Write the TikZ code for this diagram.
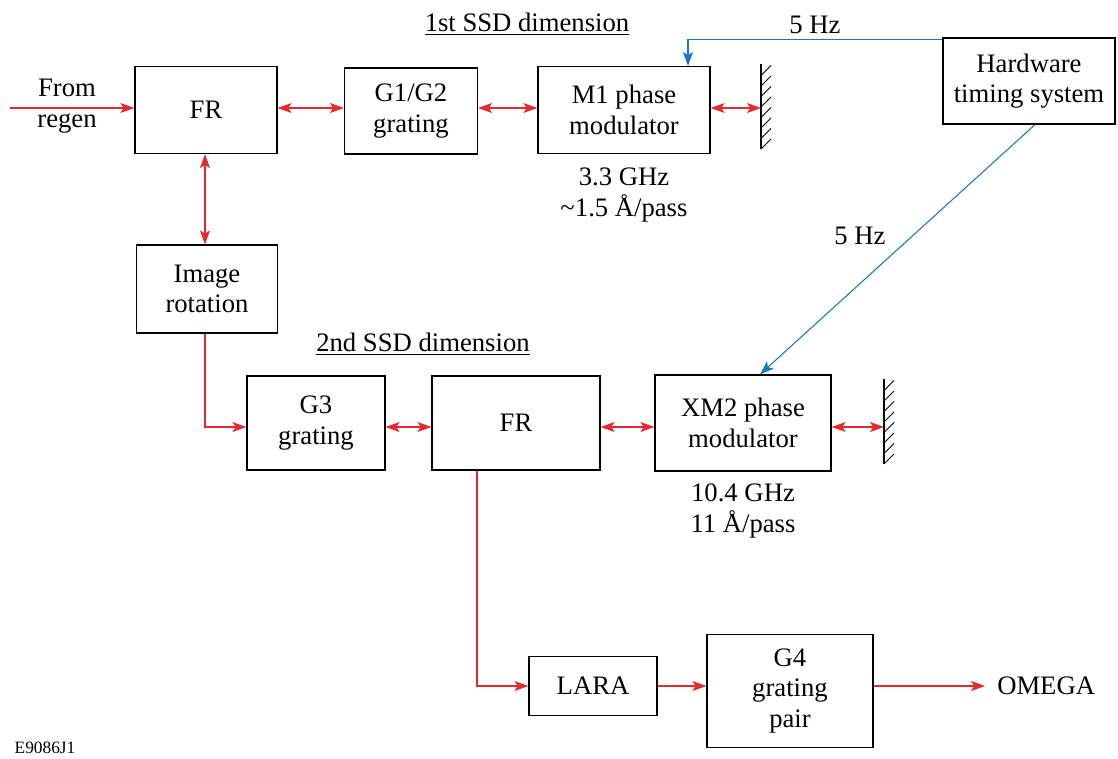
\documentclass[tikz,border=0pt]{standalone}
\usepackage{fontspec}
\setmainfont{Liberation Serif}
\usetikzlibrary{arrows.meta}
\definecolor{lred}{RGB}{232,40,44}
\definecolor{lblue}{RGB}{20,120,195}
\begin{document}
\begin{tikzpicture}[x=0.75pt,y=-0.75pt,
  font=\fontsize{20}{23}\selectfont,
  box/.style={draw, line width=0.9pt, inner sep=0pt, align=center},
  lbl/.style={inner sep=1pt, align=center},
  ra/.style={draw=lred, line width=0.8pt, -{Stealth[length=10.5pt,width=7.5pt,inset=2.5pt]}},
  rb/.style={draw=lred, line width=0.8pt, {Stealth[length=10.5pt,width=7.5pt,inset=2.5pt]}-{Stealth[length=10.5pt,width=7.5pt,inset=2.5pt]}},
  ba/.style={draw=lblue, line width=0.8pt, -{Stealth[length=10.5pt,width=7.5pt,inset=2.5pt]}},
  mirror/.style={line width=0.9pt}
]
\useasboundingbox (0,0) rectangle (1118,759);

% boxes
\node[box, minimum width=106.5pt, minimum height=65.25pt] (FR1) at (206,110) {FR};
\node[box, minimum width=99.75pt, minimum height=64.5pt] (G12) at (411,111) {G1/G2\\grating};
\node[box, minimum width=129pt, minimum height=65.25pt] (M1) at (624,110) {M1 phase\\modulator};
\node[box, minimum width=129pt, minimum height=64.5pt] (HW) at (1029,81) {Hardware\\timing system};
\node[box, minimum width=105.75pt, minimum height=66pt] (IR) at (207,289) {Image\\rotation};
\node[box, minimum width=103.5pt, minimum height=70.5pt] (G3) at (316,423) {G3\\grating};
\node[box, minimum width=126pt, minimum height=70.5pt] (FR2) at (516,423) {FR};
\node[box, minimum width=132pt, minimum height=72pt] (XM2) at (743,423) {XM2 phase\\modulator};
\node[box, minimum width=96pt, minimum height=44.25pt] (LARA) at (593,686) {LARA};
\node[box, minimum width=124.5pt, minimum height=84.75pt] (G4) at (790,691) {G4\\grating\\pair};

% labels
\node[lbl] (from) at (67,106) {From\\regen};
\node[lbl] (t1) at (527,24) {\underline{1st SSD dimension}};
\node[lbl] (t2) at (423,344) {\underline{2nd SSD dimension}};
\node[lbl] (hz1) at (815,25) {5 Hz};
\node[lbl] (hz2) at (860,236) {5 Hz};
\node[lbl] (f1) at (624,195) {3.3 GHz\\\textasciitilde1.5 Å/pass};
\node[lbl] (f2) at (743,511) {10.4 GHz\\11 Å/pass};
\node[lbl, anchor=west, inner sep=0pt] (OM) at (997,686) {OMEGA};
\node[lbl, font=\fontsize{13}{15}\selectfont] (code) at (45,748) {E9086J1};

% mirrors
\coordinate (m1t) at (761,64);
\coordinate (m1b) at (761,149);
\coordinate (m2t) at (884,379);
\coordinate (m2b) at (884,464);
\draw[mirror] (m1t) -- (m1b);
\draw[mirror] (m2t) -- (m2b);
\foreach \i in {0,...,7} {
  \draw[line width=0.7pt] (761,149-\i*10.5) -- (771,139-\i*10.5);
  \draw[line width=0.7pt] (884,464-\i*10.5) -- (894,454-\i*10.5);
}
\coordinate (m1) at (761,108);
\coordinate (m2) at (884,427);

% red connectors
\coordinate (src) at (10,108);
\draw[ra] (src) -- (FR1.west |- src);
\draw[rb] (FR1.east |- src) -- (G12.west |- src);
\draw[rb] (G12.east |- src) -- (M1.west |- src);
\draw[rb] (M1.east |- src) -- (m1);
\draw[rb] (FR1.south -| 205,0) -- (IR.north -| 205,0);
\draw[ra] (IR.south -| 205,0) |- (G3.west |- m2);
\draw[rb] (G3.east |- m2) -- (FR2.west |- m2);
\draw[rb] (FR2.east |- m2) -- (XM2.west |- m2);
\draw[rb] (XM2.east |- m2) -- (m2);
\draw[ra] (FR2.south -| 477,0) |- (LARA.west);
\draw[ra] (LARA.east) -- (G4.west |- LARA.east);
\draw[ra] (G4.east |- LARA.east) -- ([xshift=-9pt]OM.west);

% blue connectors
\draw[ba] ([yshift=-1.5pt]HW.north west) -| (M1.north -| 688,0);
\draw[ba] (HW.south -| 1035,0) -- (XM2.north -| 760,0);
\end{tikzpicture}
\end{document}
